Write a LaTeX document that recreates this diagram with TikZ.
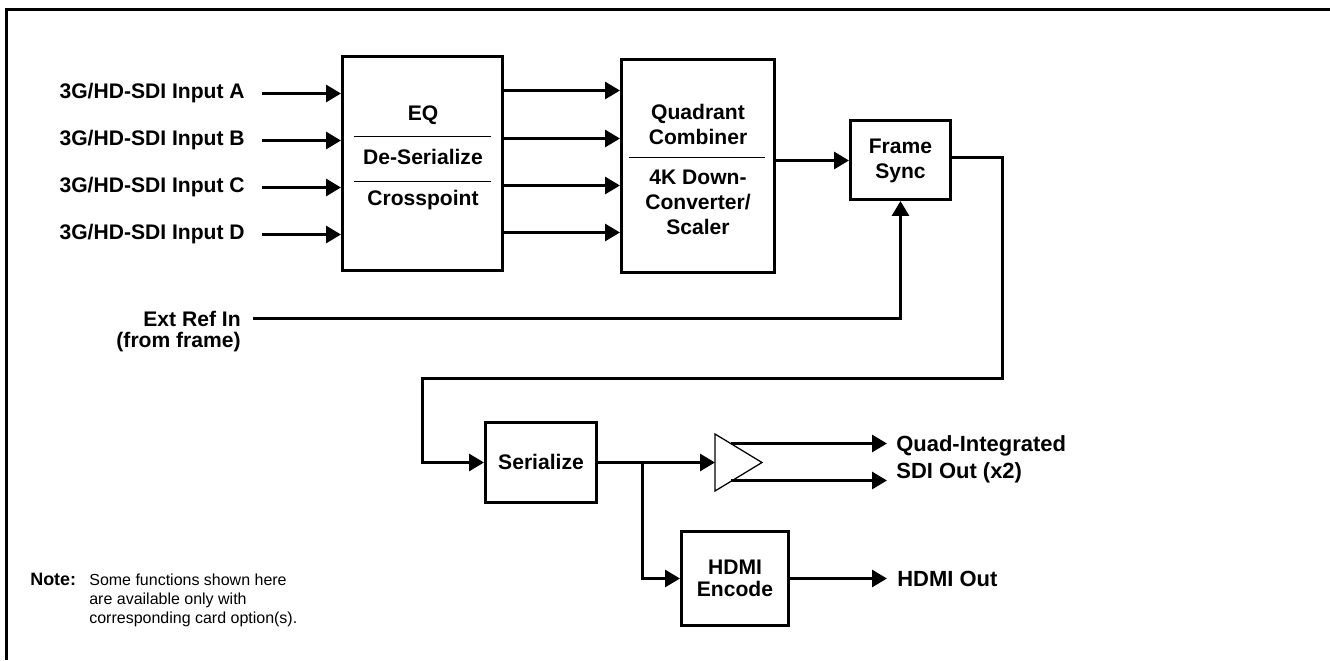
\documentclass[tikz,border=0pt]{standalone}
\usepackage{fontspec}
\setmainfont{Liberation Sans}
\usetikzlibrary{arrows.meta}

\newcommand\lblfont{\fontsize{12}{14.2}\selectfont\bfseries}
\newcommand\outfont{\fontsize{12.5}{15.3}\selectfont\bfseries}
\newcommand\notefont{\fontsize{9.1}{10.6}\selectfont}

\tikzset{
  blk/.style={draw, line width=0.06cm},
  lbl/.style={font=\lblfont, inner sep=0pt, align=center},
  sig/.style={line width=0.06cm, -{Triangle[length=0.3cm,width=0.34cm]}},
  wire/.style={line width=0.06cm},
  sepline/.style={line width=0.025cm},
}

\begin{document}
\begin{tikzpicture}[x=0.02cm, y=-0.02cm]
\useasboundingbox (0,0) rectangle (1330,660);
\draw[wire] (6.5,660) -- (6.5,9.5) -- (1330,9.5);

% blocks
\node[blk, minimum width=3.2cm, minimum height=4.28cm] (eq) at (422.5,163.5) {};
\node[blk, minimum width=3.06cm, minimum height=4.26cm] (quad) at (698,166) {};
\node[blk, minimum width=2cm, minimum height=1.58cm] (sync) at (900.5,160) {};
\node[blk, minimum width=2.22cm, minimum height=1.6cm] (ser) at (541,462.5) {};
\node[blk, minimum width=2.14cm, minimum height=1.88cm] (hdmi) at (735,578.5) {};

% block texts
\node[lbl] (eqa) at (423,115) {EQ};
\node[lbl] (eqb) at (423,157) {De-Serialize};
\node[lbl] (eqc) at (423,200) {Crosspoint};
\draw[sepline] (354,136.5) -- (491,136.5);
\draw[sepline] (354,181.5) -- (491,181.5);
\node[lbl] (quada) at (698,124) {Quadrant\\Combiner};
\draw[sepline] (629,157.5) -- (765,157.5);
\node[lbl] (quadb) at (698,202) {4K Down-\\Converter/\\Scaler};
\node[lbl] (synct) at (900.5,160.5) {Frame\\Sync};
\node[lbl] (sert) at (541,462) {Serialize};
\node[lbl, font=\fontsize{12}{12.5}\selectfont\bfseries] (hdmit) at (735,578) {HDMI\\Encode};

% inputs
\foreach \n/\y in {A/93.5,B/140.5,C/187.5,D/234.5}
  \node[lbl, anchor=east, inner xsep=0.34cm] (in\n) at (262,\y) {3G/HD-SDI Input \n};
\foreach \n in {A,B,C,D}
  \draw[sig] (in\n.east) -- (in\n -| eq.west);

\foreach \y in {90.5,138.5,185.5,232.5}
  \draw[sig] (eq.east |- 0,\y) -- (quad.west |- 0,\y);
\draw[sig] (quad.east |- 0,160.5) -- (sync.west |- 0,160.5);

% reference
\node[lbl, anchor=east, inner xsep=0.24cm] (ext) at (253,318.5) {Ext Ref In};
\node[lbl, anchor=east] (extb) at (241,342) {(from frame)};
\draw[sig] (ext.east) -| (sync.south);

% loop back to serializer
\coordinate (loopR) at (1002.5,378.5);
\coordinate (loopL) at (422.5,378.5);
\draw[sig] (sync.east |- 0,157.5) -| (loopR) -- (loopL) |- (ser.west);

% outputs
\coordinate (ampin) at (715,462.5);
\coordinate (a1) at (731,443.5);
\coordinate (a2) at (731,480.5);
\coordinate (br) at (642.5,462.5);
\draw[sepline] (715,434) -- (762,462.5) -- (715,491) -- cycle;
\draw[sig] (ser.east) -- (ampin);
\draw[sig] (br) |- (hdmi.west);
\node[lbl, anchor=west, align=left, inner xsep=0.18cm, font=\outfont] (sdi) at (887,459.5) {Quad-Integrated\\SDI Out (x2)};
\draw[sig] (a1) -- (a1 -| sdi.west);
\draw[sig] (a2) -- (a2 -| sdi.west);
\node[lbl, anchor=west, inner xsep=0.2cm, font=\outfont] (hdmiout) at (887,578.5) {HDMI Out};
\draw[sig] (hdmi.east) -- (hdmiout.west);

% note
\node[anchor=north west, inner sep=0pt, font=\fontsize{10.2}{12}\selectfont\bfseries] (note) at (30,573) {Note:};
\node[anchor=north west, inner sep=0pt, font=\notefont, align=left] (notetxt) at (89,574) {Some functions shown here\\are available only with\\corresponding card option(s).};
\end{tikzpicture}
\end{document}
